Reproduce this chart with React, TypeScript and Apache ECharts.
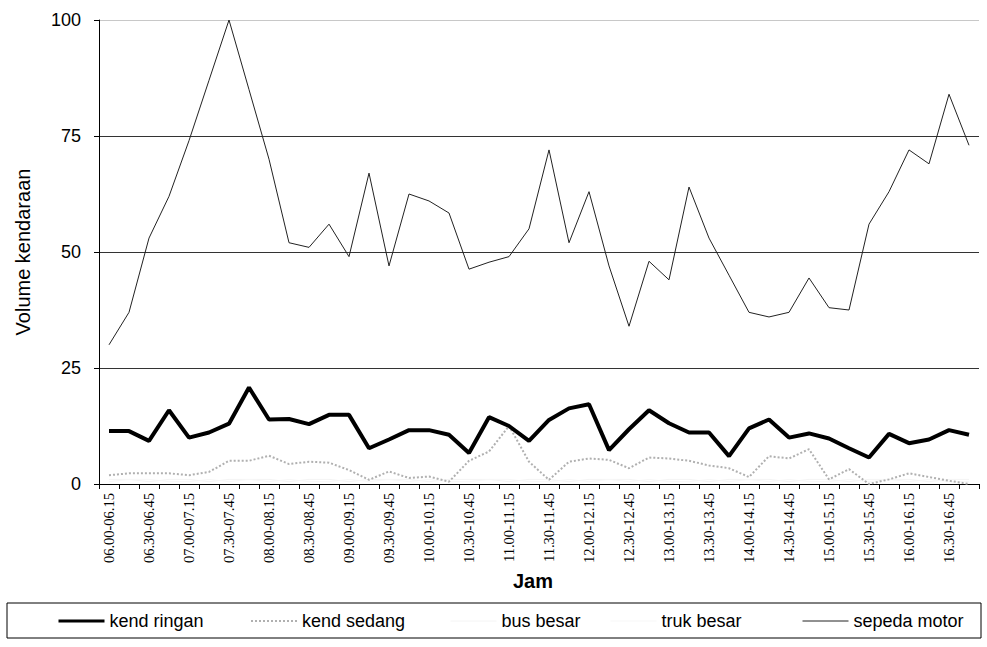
import React, { useEffect, useRef } from "react";
import * as echarts from "echarts";

const categories = [
  "06.00-06.15", "06.15-06.30", "06.30-06.45", "06.45-07.00",
  "07.00-07.15", "07.15-07.30", "07.30-07.45", "07.45-08.00",
  "08.00-08.15", "08.15-08.30", "08.30-08.45", "08.45-09.00",
  "09.00-09.15", "09.15-09.30", "09.30-09.45", "09.45-10.00",
  "10.00-10.15", "10.15-10.30", "10.30-10.45", "10.45-11.00",
  "11.00-11.15", "11.15-11.30", "11.30-11.45", "11.45-12.00",
  "12.00-12.15", "12.15-12.30", "12.30-12.45", "12.45-13.00",
  "13.00-13.15", "13.15-13.30", "13.30-13.45", "13.45-14.00",
  "14.00-14.15", "14.15-14.30", "14.30-14.45", "14.45-15.00",
  "15.00-15.15", "15.15-15.30", "15.30-15.45", "15.45-16.00",
  "16.00-16.15", "16.15-16.30", "16.30-16.45", "16.45-17.00",
];

const kendRingan = [
  11.4, 11.4, 9.3, 15.9, 10, 11.1, 13, 20.8, 13.9, 14,
  12.9, 14.9, 14.9, 7.7, 9.6, 11.6, 11.6, 10.6, 6.7, 14.4,
  12.5, 9.3, 13.8, 16.3, 17.2, 7.3, 11.8, 15.9, 13.1, 11.1,
  11.1, 6, 12, 13.9, 10, 10.9, 9.8, 7.7, 5.7, 10.8,
  8.8, 9.6, 11.6, 10.6,
];

const kendSedang = [
  1.9, 2.3, 2.3, 2.3, 1.9, 2.6, 5, 5, 6.1, 4.3,
  4.8, 4.6, 3, 0.9, 2.7, 1.3, 1.6, 0.5, 5, 7,
  12.5, 4.8, 0.9, 4.8, 5.5, 5.2, 3.4, 5.7, 5.5, 5,
  4, 3.4, 1.5, 6, 5.5, 7.5, 1, 3.2, 0, 1,
  2.3, 1.5, 0.7, 0,
];

const busBesar = [
  1, 1, 0.5, 1, 1, 0.5, 1, 1, 1, 0.5,
  1, 1, 0.5, 1, 1, 1, 0.5, 1, 1, 1,
  0.5, 1, 1, 0.5, 1, 1, 1, 0.5, 1, 1,
  0.5, 1, 1, 1, 0.5, 1, 1, 0.5, 1, 1,
  1, 0.5, 1, 1,
];

const trukBesar = [
  0.5, 1, 1, 0.5, 0.5, 1, 0.5, 1, 0.5, 1,
  0.5, 0.5, 1, 0.5, 1, 0.5, 1, 0.5, 0.5, 1,
  1, 0.5, 0.5, 1, 0.5, 1, 0.5, 1, 0.5, 0.5,
  1, 0.5, 1, 0.5, 1, 0.5, 0.5, 1, 0.5, 1,
  0.5, 1, 0.5, 0.5,
];

const sepedaMotor = [
  30, 37, 53, 62, 74, 87, 100, 85, 70, 52,
  51, 56, 49, 67, 47, 62.5, 61, 58.4, 46.3, 47.8,
  49, 55, 72, 52, 63, 47, 34, 48, 44, 64,
  53, 45, 37, 36, 37, 44.4, 38, 37.5, 56, 63,
  72, 69, 84, 73,
];

const yTicks = [0, 25, 50, 75, 100];

const SANS = "Liberation Sans, Arial, sans-serif";
const SERIF = "Liberation Serif, Times New Roman, serif";

export default function App() {
  const ref = useRef<HTMLDivElement>(null);
  useEffect(() => {
    if (!ref.current) return;
    const chart = echarts.init(ref.current, undefined, { renderer: "svg" });
    const legendText = { fontFamily: SANS, fontSize: 18, color: "#000" };
    const mkLegend = (name: string, left: number, lw: number) => ({
      data: [name],
      left,
      top: 612,
      padding: 0,
      itemWidth: 46,
      itemHeight: 14,
      itemGap: 5,
      selectedMode: false,
      textStyle: legendText,
      lineStyle: { width: lw },
      itemStyle: {
        color: "rgba(0,0,0,0)",
        borderColor: "rgba(0,0,0,0)",
        borderWidth: 0,
        opacity: 0,
      },
    });
    chart.setOption({
      animation: false,
      backgroundColor: "#fff",
      grid: { left: 99, right: 8, top: 20, bottom: 163, containLabel: false },
      xAxis: {
        type: "category",
        data: categories,
        boundaryGap: true,
        axisLine: { show: true, lineStyle: { color: "#000", width: 1 } },
        axisTick: { show: true, interval: 0, length: 5, lineStyle: { color: "#000" } },
        axisLabel: {
          interval: 1,
          rotate: 90,
          fontFamily: SERIF,
          fontSize: 14.5,
          color: "#000",
          margin: 9,
        },
        splitLine: { show: false },
        name: "Jam",
        nameLocation: "middle",
        nameGap: 68,
        nameTextStyle: {
          fontFamily: SANS,
          fontSize: 20,
          fontWeight: "bold",
          color: "#000",
          padding: [0, 12, 0, 0],
        },
      },
      yAxis: {
        type: "value",
        min: yTicks[0],
        max: yTicks[yTicks.length - 1],
        interval: 25,
        axisLine: { show: true, lineStyle: { color: "#000", width: 1 } },
        axisTick: { show: true, length: 5, lineStyle: { color: "#000" } },
        axisLabel: { fontFamily: SANS, fontSize: 18, color: "#000", margin: 18 },
        splitLine: {
          show: true,
          lineStyle: { color: ["#333", "#333", "#333", "#333", "#c8c8c8"], width: 1 },
        },
        name: "Volume kendaraan",
        nameLocation: "middle",
        nameGap: 66,
        nameTextStyle: { fontFamily: SANS, fontSize: 20, color: "#000" },
      },
      legend: [
        mkLegend("kend ringan", 57, 3),
        mkLegend("kend sedang", 250, 2),
        mkLegend("bus besar", 450, 1),
        mkLegend("truk besar", 610, 1),
        mkLegend("sepeda motor", 802, 1),
      ],
      graphic: [
        {
          type: "rect",
          shape: { x: 7, y: 603, width: 974, height: 35 },
          style: { fill: "none", stroke: "#000", lineWidth: 1 },
          silent: true,
        },
      ],
      series: [
        {
          name: "bus besar",
          type: "line",
          data: busBesar,
          symbol: "none",
          z: 1,
          itemStyle: { color: "#f4f4f4" },
          lineStyle: { color: "#f4f4f4", width: 1 },
        },
        {
          name: "truk besar",
          type: "line",
          data: trukBesar,
          symbol: "none",
          z: 1,
          itemStyle: { color: "#f7f7f7" },
          lineStyle: { color: "#f7f7f7", width: 1 },
        },
        {
          name: "kend sedang",
          type: "line",
          data: kendSedang,
          symbol: "none",
          z: 3,
          itemStyle: { color: "#b0b0b0" },
          lineStyle: { color: "#b0b0b0", width: 2, type: "dotted" },
        },
        {
          name: "sepeda motor",
          type: "line",
          data: sepedaMotor,
          symbol: "none",
          z: 4,
          itemStyle: { color: "#222" },
          lineStyle: { color: "#222", width: 1 },
        },
        {
          name: "kend ringan",
          type: "line",
          data: kendRingan,
          symbol: "none",
          z: 5,
          itemStyle: { color: "#000" },
          lineStyle: { color: "#000", width: 4 },
        },
      ],
    });
    return () => chart.dispose();
  }, []);
  return (
    <div
      ref={ref}
      style={{ position: "fixed", left: 0, top: 0, width: 987, height: 647, background: "#fff" }}
    />
  );
}
